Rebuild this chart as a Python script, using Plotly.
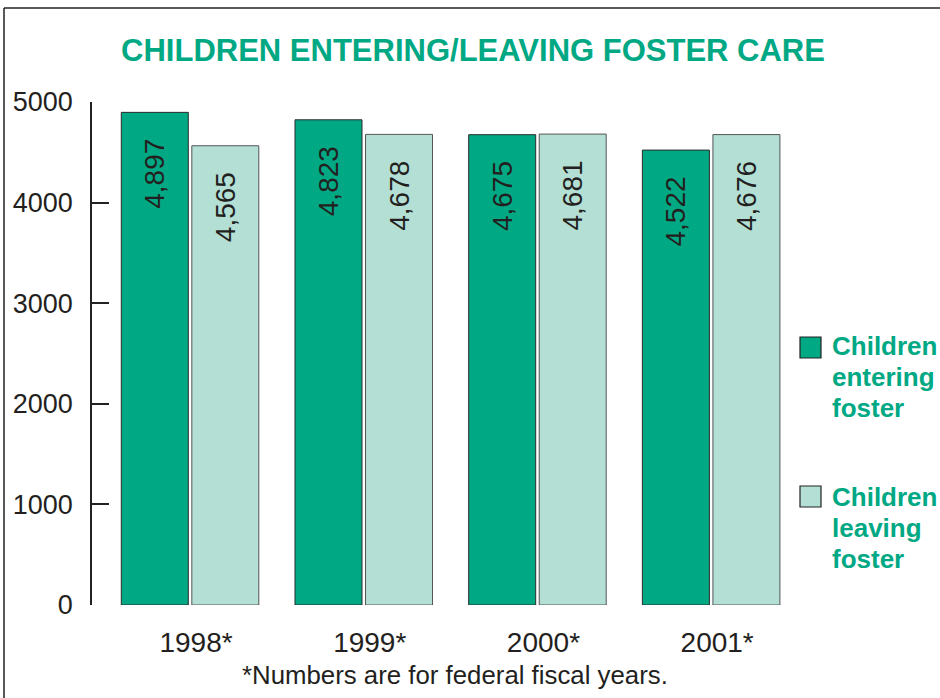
import plotly.graph_objects as go

# Data
years = ["1998*", "1999*", "2000*", "2001*"]
entering = [4897, 4823, 4675, 4522]
leaving = [4565, 4678, 4681, 4676]
y_ticks = [0, 1000, 2000, 3000, 4000, 5000]

GREEN = "#00A884"
LIGHT = "#B3DFD5"
TEXT = "#231F20"
BODY_FONT = "Liberation Sans, Arial, Helvetica, sans-serif"

W, H = 940, 698
ML, MR, MT, MB = 92, 140, 102, 93
PW, PH = W - ML - MR, H - MT - MB


def px_x(x):
    return (x - ML) / PW


def px_y(y):
    return (H - MB - y) / PH


# trailing spacing keeps the rotated value a little below the bar top
pad = "\u00a0\u00a0\u00a0"

fig = go.Figure()
fig.add_trace(go.Bar(
    name="Children entering foster", x=years, y=entering,
    marker=dict(color=GREEN, line=dict(color="#2b2b2b", width=1)),
    texttemplate="%{y:,}" + pad, textposition="inside", insidetextanchor="end",
    textangle=-90, insidetextfont=dict(family=BODY_FONT, size=28, color=TEXT),
    showlegend=False,
))
fig.add_trace(go.Bar(
    name="Children leaving foster", x=years, y=leaving,
    marker=dict(color=LIGHT, line=dict(color="#555555", width=1)),
    texttemplate="%{y:,}" + pad, textposition="inside", insidetextanchor="end",
    textangle=-90, insidetextfont=dict(family=BODY_FONT, size=28, color=TEXT),
    showlegend=False,
))

shapes = [
    # frame lines along top and left
    dict(type="line", xref="paper", yref="paper", x0=px_x(4), x1=px_x(W + 5),
         y0=px_y(8), y1=px_y(8), line=dict(color="#222222", width=1.5)),
    dict(type="line", xref="paper", yref="paper", x0=px_x(4), x1=px_x(4),
         y0=px_y(8), y1=px_y(H + 5), line=dict(color="#222222", width=1.5)),
    # legend swatches
    dict(type="rect", xref="paper", yref="paper", x0=px_x(800), x1=px_x(821),
         y0=px_y(358), y1=px_y(337), fillcolor=GREEN, line=dict(color="#222222", width=1.2)),
    dict(type="rect", xref="paper", yref="paper", x0=px_x(800), x1=px_x(821),
         y0=px_y(507), y1=px_y(486), fillcolor=LIGHT, line=dict(color="#222222", width=1.2)),
]

annotations = [
    dict(text="*Numbers are for federal fiscal years.", xref="paper", yref="paper",
         x=px_x(455), y=px_y(675), xanchor="center", yanchor="middle", showarrow=False,
         font=dict(family=BODY_FONT, size=25.8, color=TEXT)),
]
legend_lines = [
    (["Children", "entering", "foster"], 346),
    (["Children", "leaving", "foster"], 497),
]
for lines, y0 in legend_lines:
    for i, word in enumerate(lines):
        annotations.append(dict(
            text="<b>" + word + "</b>", xref="paper", yref="paper",
            x=px_x(830), y=px_y(y0 + 31 * i), xanchor="left", yanchor="middle",
            showarrow=False, font=dict(family=BODY_FONT, size=26, color=GREEN)))

fig.update_layout(
    width=W, height=H,
    margin=dict(l=ML, r=MR, t=MT, b=MB),
    paper_bgcolor="white", plot_bgcolor="white",
    barmode="group", bargap=0.188, bargroupgap=0.05,
    title=dict(text="<b>CHILDREN ENTERING/LEAVING FOSTER CARE</b>",
               x=473 / W, xref="container", xanchor="center",
               y=1 - 50 / H, yref="container", yanchor="middle",
               font=dict(family=BODY_FONT, size=31, color=GREEN)),
    xaxis=dict(range=[-0.5645, 3.5115], showline=False, ticks="", showgrid=False,
               tickfont=dict(family=BODY_FONT, size=28, color=TEXT),
               ticklabelstandoff=18, ticklabelshift=6),
    yaxis=dict(range=[0, 5000], tickvals=y_ticks, ticktext=[str(v) for v in y_ticks],
               showline=True, linecolor="#222222", linewidth=1.5,
               ticks="inside", ticklen=17, tickwidth=1.5, tickcolor="#222222",
               showgrid=False, zeroline=False,
               tickfont=dict(family=BODY_FONT, size=27, color=TEXT),
               ticklabelstandoff=12),
    shapes=shapes, annotations=annotations,
)

fig.write_html("out.html")
